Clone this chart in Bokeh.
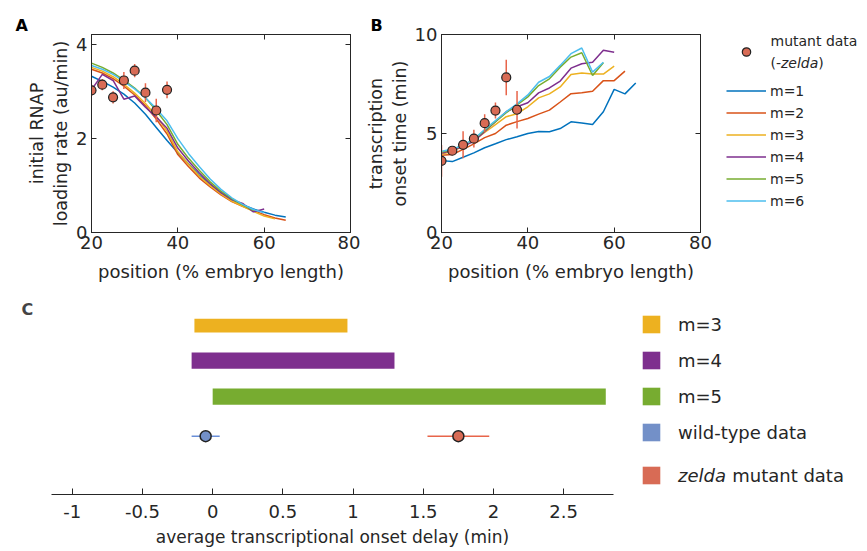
from bokeh.plotting import figure
from bokeh.layouts import column, row
from bokeh.models import (Range1d, LinearAxis, Legend, LegendItem, FixedTicker,
                          NumeralTickFormatter, Label)
from bokeh.embed import file_html
from bokeh.resources import INLINE

# ---------------- data ----------------
positions = [20, 22.5, 25, 27.5, 30, 32.5, 35, 37.5, 40, 42.5, 45, 47.5, 50,
             52.5, 55, 57.5, 60, 62.5, 65]
model_labels = ["m=1", "m=2", "m=3", "m=4", "m=5", "m=6"]

# Panel A: initial RNAP loading rate (au/min)
loading_m1 = [3.33, 3.22, 3.10, 2.95, 2.76, 2.52, 2.24, 1.96, 1.70, 1.46, 1.22, 1.02, 0.85, 0.70, 0.59, 0.50, 0.43, 0.37, 0.33]
loading_m2 = [3.48, 3.40, 3.28, 3.12, 2.93, 2.70, 2.42, 2.10, 1.66, 1.40, 1.16, 0.97, 0.80, 0.66, 0.56, 0.47, 0.38, 0.31, 0.26]
loading_m3 = [3.52, 3.44, 3.32, 3.16, 2.97, 2.75, 2.48, 2.16, 1.72, 1.45, 1.20, 1.00, 0.82, 0.67, 0.56, 0.45, 0.35, 0.29]
loading_m4 = [3.04, 3.37, 3.24, 2.84, 2.91, 2.67, 2.46, 2.22, 1.80, 1.52, 1.27, 1.04, 0.85, 0.70, 0.62, 0.44, 0.50]
loading_m5 = [3.61, 3.52, 3.40, 3.25, 3.08, 2.87, 2.60, 2.30, 1.88, 1.58, 1.32, 1.08, 0.88, 0.72, 0.59, 0.47]
loading_m6 = [3.56, 3.48, 3.37, 3.22, 3.06, 2.87, 2.64, 2.38, 2.00, 1.68, 1.40, 1.14, 0.92, 0.74, 0.60, 0.49, 0.42]

# Panel B: transcription onset time (min)
onset_m1 = [3.63, 3.58, 3.80, 4.02, 4.28, 4.48, 4.69, 4.84, 5.00, 5.10, 5.09, 5.25, 5.59, 5.53, 5.45, 6.10, 7.23, 7.00, 7.55]
onset_m2 = [3.90, 3.94, 4.20, 4.48, 4.79, 5.00, 5.42, 5.60, 5.76, 5.98, 6.18, 6.59, 7.01, 7.06, 7.13, 7.67, 7.67, 8.15]
onset_m3 = [3.95, 4.10, 4.35, 4.65, 5.05, 5.45, 5.85, 6.00, 6.35, 6.80, 7.00, 7.35, 7.98, 8.06, 8.00, 8.00, 8.40]
onset_m4 = [4.00, 4.15, 4.35, 4.60, 5.10, 5.60, 6.10, 6.35, 6.55, 7.05, 7.30, 7.65, 8.30, 8.52, 8.60, 9.20, 9.10]
onset_m5 = [4.05, 4.20, 4.40, 4.70, 5.15, 5.60, 6.05, 6.45, 6.85, 7.42, 7.76, 8.35, 8.86, 9.08, 7.93, 8.57]
onset_m6 = [4.10, 4.20, 4.42, 4.72, 5.20, 5.65, 6.10, 6.50, 6.95, 7.59, 7.88, 8.44, 9.03, 9.32, 8.10, 8.60]

# mutant (-zelda) data
mutant_pos = [20, 22.5, 25, 27.5, 30, 32.5, 35, 37.5]
mutant_rate = [3.03, 3.15, 2.88, 3.24, 3.45, 2.98, 2.60, 3.04]
mutant_rate_err = [0.12, 0.12, 0.13, 0.18, 0.14, 0.20, 0.25, 0.18]
mutant_onset = [3.62, 4.13, 4.43, 4.74, 5.52, 6.16, 7.83, 6.20]
mutant_onset_err = [0.80, 0.15, 0.68, 0.45, 0.45, 0.40, 0.90, 0.95]

# Panel C: average transcriptional onset delay (min)
range_labels = ["m=3", "m=4", "m=5"]
range_low = [-0.13, -0.15, 0.00]
range_high = [0.96, 1.295, 2.80]
data_labels = ["wild-type data", "zelda mutant data"]
delay_mean = [-0.05, 1.75]
delay_err = [0.10, 0.22]
c_ticks = [-1, -0.5, 0, 0.5, 1, 1.5, 2, 2.5]

# ---------------- style ----------------
FONT = "DejaVu Sans"
TXT = "#262626"
line_colors = ["#0072BD", "#D95319", "#EDB120", "#7E2F8E", "#77AC30", "#4DBEEE"]
mut_fill = "#D86B55"
mut_err = "#E8654A"
wt_fill = "#7390C8"
wt_err = "#6A8FD8"


def mirror_axis(ticks):
    return LinearAxis(ticker=FixedTicker(ticks=ticks), major_label_text_font_size="2px",
                      major_label_text_color=None, major_tick_in=5, major_tick_out=0,
                      minor_tick_line_color=None, axis_line_color=TXT,
                      major_tick_line_color=TXT, major_label_standoff=0)


def style_axes(p, xticks, yticks, ylabel):
    for ax in (p.xaxis[0], p.yaxis[0]):
        ax.axis_line_color = TXT
        ax.major_tick_line_color = TXT
        ax.major_tick_in = 5
        ax.major_tick_out = 0
        ax.minor_tick_line_color = None
        ax.major_label_text_font = FONT
        ax.major_label_text_font_size = "18px"
        ax.major_label_text_color = TXT
        ax.axis_label_text_font = FONT
        ax.axis_label_text_font_style = "normal"
        ax.axis_label_text_color = TXT
    p.xaxis[0].ticker = FixedTicker(ticks=xticks)
    p.yaxis[0].ticker = FixedTicker(ticks=yticks)
    p.xaxis[0].axis_label = "position (% embryo length)"
    p.xaxis[0].axis_label_text_font_size = "18px"
    p.xaxis[0].major_label_standoff = 3
    p.xaxis[0].axis_label_standoff = 9
    p.yaxis[0].axis_label = ylabel
    p.yaxis[0].axis_label_text_font_size = "17.5px"
    p.yaxis[0].major_label_standoff = 4
    p.yaxis[0].axis_label_standoff = 2
    p.add_layout(mirror_axis(xticks), "above")
    p.add_layout(mirror_axis(yticks), "right")
    p.grid.grid_line_color = None
    p.outline_line_color = TXT
    p.title.text_font = FONT
    p.title.text_font_size = "16px"
    p.title.text_font_style = "bold"
    p.title.text_color = "#000000"
    p.title.align = "left"
    p.title.standoff = 0


def legend_figure(width, height, left, top):
    # a bare canvas that only hosts a legend; its ranges lie far from every data value,
    # so the renderers added to it are only seen as legend swatches
    f = figure(width=width, height=height, output_backend="svg", toolbar_location=None,
               x_range=Range1d(1000, 1001), y_range=Range1d(1000, 1001),
               x_axis_type=None, y_axis_type=None, title=None,
               min_border_left=left, min_border_right=0,
               min_border_top=top, min_border_bottom=0)
    f.grid.grid_line_color = None
    f.outline_line_color = None
    return f


def make_legend(items, location="top_left", **kw):
    return Legend(items=items, location=location, padding=0, margin=0,
                  label_text_font=FONT, label_text_color=TXT,
                  border_line_color=None, background_fill_alpha=0, **kw)


def text_label(fig, x, y, text, size, style="normal"):
    fig.add_layout(Label(x=x, y=y, x_units="screen", y_units="screen", text=text,
                         text_font=FONT, text_font_size=size, text_font_style=style,
                         text_color=TXT, text_baseline="middle", text_align="left"))


# ---------------- Panel A ----------------
pA = figure(width=360, height=285, output_backend="svg", toolbar_location=None,
            x_range=Range1d(20, 80), y_range=Range1d(0, 4.22),
            min_border_left=91, min_border_right=10, min_border_top=34,
            min_border_bottom=53, title="A")
style_axes(pA, [20, 40, 60, 80], [0, 2, 4], "initial RNAP\nloading rate (au/min)")
pA.title.offset = -76
for vals, c in zip([loading_m1, loading_m2, loading_m3, loading_m4, loading_m5, loading_m6], line_colors):
    pA.line(positions[:len(vals)], vals, line_color=c, line_width=1.5)
pA.segment(x0=mutant_pos, x1=mutant_pos,
           y0=[v - e for v, e in zip(mutant_rate, mutant_rate_err)],
           y1=[v + e for v, e in zip(mutant_rate, mutant_rate_err)],
           line_color=mut_err, line_width=1.5)
pA.scatter(mutant_pos, mutant_rate, size=9, fill_color=mut_fill, line_color="#222222", line_width=1.2)

# ---------------- Panel B ----------------
pB = figure(width=352, height=285, output_backend="svg", toolbar_location=None,
            x_range=Range1d(20, 80), y_range=Range1d(0, 10),
            min_border_left=81, min_border_right=12, min_border_top=34,
            min_border_bottom=53, title="B")
style_axes(pB, [20, 40, 60, 80], [0, 5, 10], "transcription\nonset time (min)")
pB.title.offset = -71
onset_series = [onset_m1, onset_m2, onset_m3, onset_m4, onset_m5, onset_m6]
for vals, c in zip(onset_series, line_colors):
    pB.line(positions[:len(vals)], vals, line_color=c, line_width=1.5)
pB.segment(x0=mutant_pos, x1=mutant_pos,
           y0=[v - e for v, e in zip(mutant_onset, mutant_onset_err)],
           y1=[v + e for v, e in zip(mutant_onset, mutant_onset_err)],
           line_color=mut_err, line_width=1.5)
pB.scatter(mutant_pos, mutant_onset, size=9, fill_color=mut_fill, line_color="#222222", line_width=1.2)

# legend for A/B (two stacked canvases to the right of B)
lB1 = legend_figure(155, 72, 14, 27)
leg_dash = lB1.scatter(x=mutant_pos, y=mutant_onset, marker="dash", angle=1.5708, size=9,
                       line_color=mut_err, line_width=1.5)
leg_dot = lB1.scatter(x=mutant_pos, y=mutant_onset, marker="circle", size=9, fill_color=mut_fill,
                      line_color="#222222", line_width=1.2)
lB1.add_layout(make_legend([LegendItem(label="", renderers=[leg_dash, leg_dot])], location=(0, 10),
                           glyph_width=40, glyph_height=21, label_height=21,
                           label_standoff=4, label_text_font_size="14px"))
text_label(lB1, 44, 32, "mutant data", "14px")
text_label(lB1, 44, 10, "(-", "14px")
text_label(lB1, 54.5, 10, "zelda", "14px", "italic")
text_label(lB1, 91.8, 10, ")", "14px")

lB2 = legend_figure(155, 213, 14, 8)
leg_lines = [lB2.line(x=positions[:len(v)], y=v, line_color=c, line_width=1.5)
             for v, c in zip(onset_series, line_colors)]
lB2.add_layout(make_legend([LegendItem(label=lab, renderers=[r]) for lab, r in zip(model_labels, leg_lines)],
                           glyph_width=40, glyph_height=21, label_height=21,
                           label_standoff=4, spacing=1, label_text_font_size="14px"))

# ---------------- Panel C ----------------
pC = figure(width=623, height=266, output_backend="svg", toolbar_location=None,
            x_range=Range1d(-1.148, 2.855), y_range=Range1d(5.72, 0.833),
            min_border_left=51, min_border_right=10, min_border_top=33,
            min_border_bottom=57, title="C")
pC.yaxis.visible = False
pC.grid.grid_line_color = None
pC.outline_line_color = None
ax = pC.xaxis[0]
ax.ticker = FixedTicker(ticks=c_ticks)
ax.formatter = NumeralTickFormatter(format="0[.]0")
ax.axis_line_color = TXT
ax.major_tick_line_color = TXT
ax.major_tick_in = 6
ax.major_tick_out = 0
ax.minor_tick_line_color = None
ax.major_label_text_font = FONT
ax.major_label_text_font_size = "18px"
ax.major_label_text_color = TXT
ax.major_label_standoff = 10
ax.axis_label = "average transcriptional onset delay (min)"
ax.axis_label_text_font = FONT
ax.axis_label_text_font_size = "17px"
ax.axis_label_text_font_style = "normal"
ax.axis_label_text_color = TXT
ax.axis_label_standoff = 6
pC.title.text_font = FONT
pC.title.text_font_size = "16px"
pC.title.text_font_style = "bold"
pC.title.align = "left"
pC.title.offset = -30
pC.title.standoff = 0

bar_colors = [line_colors[2], line_colors[3], line_colors[4]]
bar_rows = [1, 2, 3]
for i in range(len(range_labels)):
    pC.hbar(y=[bar_rows[i]], left=[range_low[i]], right=[range_high[i]],
            height=0.45, fill_color=bar_colors[i], line_color=None)
point_row = 4.1
pt_fill = [wt_fill, mut_fill]
pt_err = [wt_err, mut_err]
for i in range(len(data_labels)):
    pC.segment(x0=[delay_mean[i] - delay_err[i]], x1=[delay_mean[i] + delay_err[i]],
               y0=[point_row], y1=[point_row], line_color=pt_err[i], line_width=1.5)
    pC.scatter([delay_mean[i]], [point_row], size=11, fill_color=pt_fill[i],
               line_color="#222222", line_width=1.5)

# legend for C (two stacked canvases to the right of C)
sw_left = range_low + [m - e for m, e in zip(delay_mean, delay_err)]
sw_right = range_high + [m + e for m, e in zip(delay_mean, delay_err)]
sw_colors = bar_colors + pt_fill
lC1 = legend_figure(244, 169, 17, 28)
sw1 = [lC1.hbar(y=[k + 1], left=[sw_left[k]], right=[sw_right[k]], height=0.45,
                fill_color=sw_colors[k], line_color=None) for k in range(4)]
lC1.add_layout(make_legend([LegendItem(label=lab, renderers=[r])
                            for lab, r in zip(range_labels + data_labels[:1], sw1)],
                           glyph_width=22, glyph_height=22, label_height=22,
                           label_standoff=16, spacing=14, label_text_font_size="18px"))
lC2 = legend_figure(244, 97, 17, 10)
sw2 = lC2.hbar(y=[5], left=[sw_left[4]], right=[sw_right[4]], height=0.45,
               fill_color=sw_colors[4], line_color=None)
lC2.add_layout(make_legend([LegendItem(label="zelda", renderers=[sw2])],
                           glyph_width=22, glyph_height=22, label_height=22,
                           label_standoff=16, label_text_font_size="18px",
                           label_text_font_style="italic"))
text_label(lC2, 91.7, 76, "mutant data", "18px")

layout = column(row(pA, pB, column(lB1, lB2, spacing=0), spacing=0),
                row(pC, column(lC1, lC2, spacing=0), spacing=0), spacing=0)
open("out.html", "w").write(file_html(layout, INLINE))
